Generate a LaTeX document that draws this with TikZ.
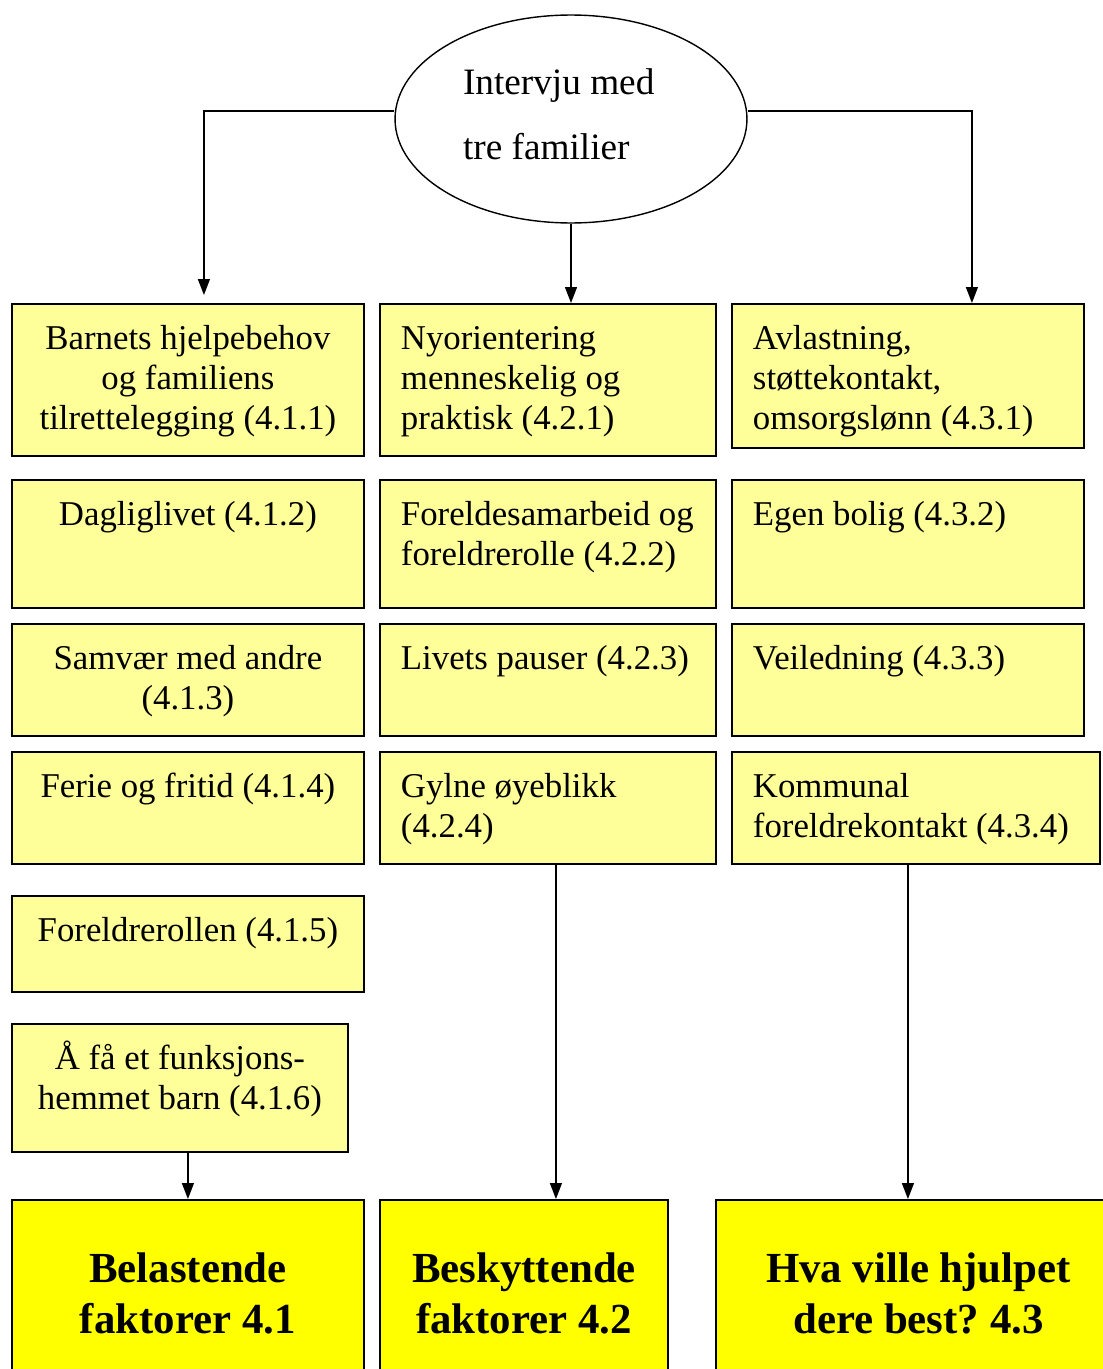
\documentclass[tikz,border=0pt]{standalone}
\usepackage{fontspec}
\setmainfont{Liberation Serif}
\usetikzlibrary{shapes.geometric,arrows.meta}
\definecolor{lysgul}{RGB}{255,255,153}
\definecolor{sterkgul}{RGB}{255,255,0}
\frenchspacing
\newcommand{\midttekst}[3]{\parbox[t][#2][t]{#1}{\centering\rule{0pt}{0.92cm}#3}}
\newcommand{\venstretekst}[3]{\parbox[t][#2][t]{#1}{\raggedright\leftskip=0.42cm\rule{0pt}{0.92cm}#3}}
\newcommand{\fettekst}[2]{\parbox[t][4.02cm][t]{#1}{\centering\fontsize{24.4}{28.5}\selectfont\bfseries\rule{0pt}{1.66cm}#2}}

\begin{document}
\begin{tikzpicture}[x=0.02cm,y=-0.02cm,
        rute/.style={draw,line width=1.1pt,fill=lysgul,anchor=north west,inner sep=0pt,
            font=\fontsize{19.8}{22.7}\selectfont},
        hoved/.style={draw,line width=1.1pt,fill=sterkgul,anchor=north west,inner sep=0pt},
        pil/.style={line width=0.8pt,-{Triangle[length=0.32cm,width=0.24cm]}}]
        \useasboundingbox (0,0) rectangle (1102,1369);
        \node[ellipse,draw,line width=0.8pt,minimum width=7.04cm,minimum height=4.16cm,inner sep=0pt]
            (intervju) at (571,119) {\parbox{4.32cm}{\raggedright\fontsize{21.2}{37}\selectfont Intervju med\\tre familier\rule[-0.2cm]{0pt}{0pt}}};
        % venstre kolonne
        \node[rute] (b11) at (11,303) {\midttekst{7.04cm}{3.04cm}{Barnets hjelpebehov\\og familiens\\tilrettelegging (4.1.1)}};
        \node[rute] (b12) at (11,479) {\midttekst{7.04cm}{2.56cm}{Dagliglivet (4.1.2)}};
        \node[rute] (b13) at (11,623) {\midttekst{7.04cm}{2.24cm}{Samvær med andre\\(4.1.3)}};
        \node[rute] (b14) at (11,751) {\midttekst{7.04cm}{2.24cm}{Ferie og fritid (4.1.4)}};
        \node[rute] (b15) at (11,895) {\midttekst{7.04cm}{1.92cm}{Foreldrerollen (4.1.5)}};
        \node[rute] (b16) at (11,1023) {\midttekst{6.72cm}{2.56cm}{Å få et funksjons-\\hemmet barn (4.1.6)}};
        % midtre kolonne
        \node[rute] (b21) at (379,303) {\venstretekst{6.72cm}{3.04cm}{Nyorientering\\menneskelig og\\praktisk (4.2.1)}};
        \node[rute] (b22) at (379,479) {\venstretekst{6.72cm}{2.56cm}{Foreldesamarbeid og\\foreldrerolle (4.2.2)}};
        \node[rute] (b23) at (379,623) {\venstretekst{6.72cm}{2.24cm}{Livets pauser (4.2.3)}};
        \node[rute] (b24) at (379,751) {\venstretekst{6.72cm}{2.24cm}{Gylne øyeblikk\\(4.2.4)}};
        % hoyre kolonne
        \node[rute] (b31) at (731,303) {\venstretekst{7.04cm}{2.88cm}{Avlastning,\\støttekontakt,\\omsorgslønn (4.3.1)}};
        \node[rute] (b32) at (731,479) {\venstretekst{7.04cm}{2.56cm}{Egen bolig (4.3.2)}};
        \node[rute] (b33) at (731,623) {\venstretekst{7.04cm}{2.24cm}{Veiledning (4.3.3)}};
        \node[rute] (b34) at (731,751) {\venstretekst{7.36cm}{2.24cm}{Kommunal\\foreldrekontakt (4.3.4)}};
        % hovedkategorier
        \node[hoved] (belast) at (11,1199) {\fettekst{7.04cm}{Belastende\\faktorer 4.1}};
        \node[hoved] (beskytt) at (379,1199) {\fettekst{5.76cm}{Beskyttende\\faktorer 4.2}};
        \node[hoved] (hjelp) at (715,1199) {\fettekst{8.1cm}{Hva ville hjulpet\\dere best? 4.3}};
        % piler
        \draw[pil] ([yshift=0.16cm]intervju.west) -| ([xshift=0.32cm,yshift=0.16cm]b11.north);
        \draw[pil] (intervju.south) -- (intervju.south |- b21.north);
        \draw[pil] ([yshift=0.16cm]intervju.east) -| ([xshift=1.28cm]b31.north);
        \draw[pil] (belast.north |- b16.south) -- (belast.north);
        \draw[pil] ([xshift=0.16cm]b24.south) -- ([xshift=0.16cm]b24.south |- beskytt.north);
        \draw[pil] ([xshift=-0.16cm]b34.south) -- ([xshift=-0.16cm]b34.south |- hjelp.north);
\end{tikzpicture}
\end{document}
